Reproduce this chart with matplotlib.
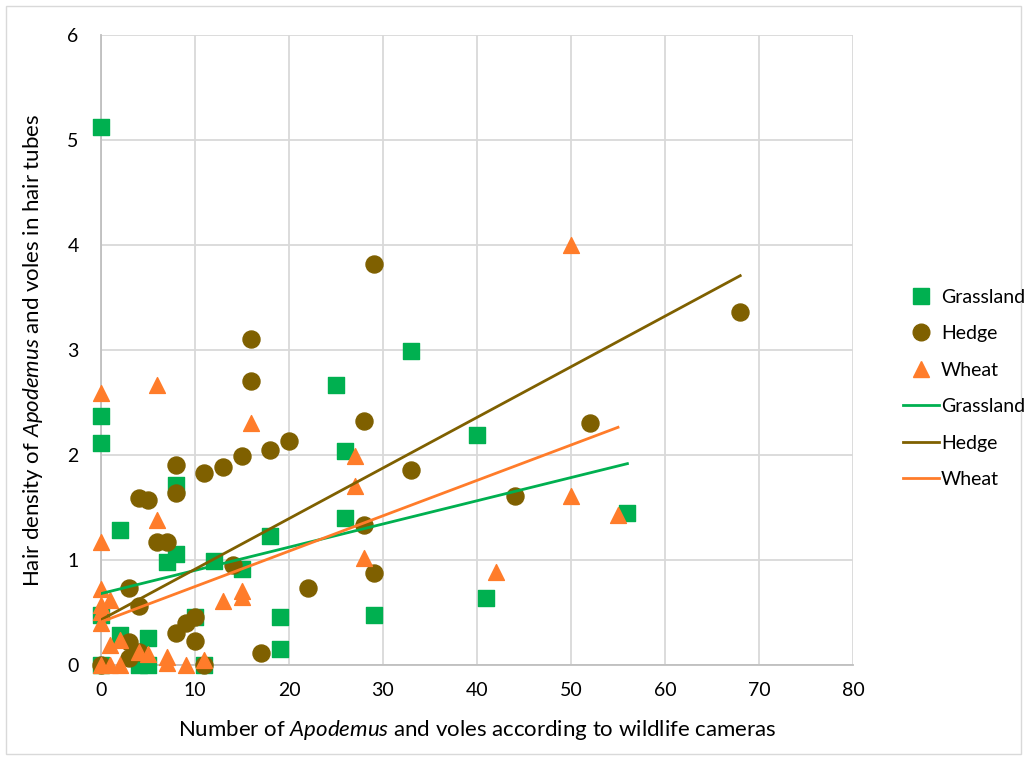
import numpy as np
import matplotlib.pyplot as plt
from matplotlib.lines import Line2D
from matplotlib.patches import Rectangle

plt.rcParams['font.family'] = ['Lato', 'DejaVu Sans']
plt.rcParams['mathtext.fontset'] = 'custom'
plt.rcParams['mathtext.rm'] = 'Lato'
plt.rcParams['mathtext.it'] = 'Lato:italic'

# cameras count (x) vs hair density (y)
grass_x = [0, 0, 0, 2, 8, 8, 7, 12, 15, 18, 25, 26, 26, 33, 40, 41, 56, 29, 19, 19,
           0, 2, 5, 10, 0, 4, 5, 11]
grass_y = [5.12, 2.37, 2.11, 1.29, 1.71, 1.06, 0.98, 0.99, 0.91, 1.23, 2.67, 2.04, 1.40,
           2.99, 2.19, 0.64, 1.45, 0.48, 0.46, 0.15, 0.48, 0.29, 0.26, 0.46, 0.0, 0.0, 0.0, 0.0]

hedge_x = [29, 16, 16, 28, 20, 18, 15, 13, 11, 8, 8, 4, 5, 6, 7, 3, 4, 14, 28, 29, 33,
           44, 52, 68, 22, 17, 8, 9, 10, 10, 3, 4, 3, 0, 11]
hedge_y = [3.82, 3.10, 2.70, 2.32, 2.13, 2.05, 1.99, 1.89, 1.83, 1.90, 1.64, 1.59, 1.57,
           1.17, 1.17, 0.73, 0.56, 0.95, 1.33, 0.88, 1.86, 1.61, 2.30, 3.36, 0.73, 0.11,
           0.30, 0.40, 0.46, 0.23, 0.22, 0.12, 0.07, 0.0, 0.0]

wheat_x = [50, 6, 0, 16, 27, 27, 6, 0, 50, 55, 42, 28, 15, 15, 13, 0, 1, 0, 0, 0,
           1, 2, 4, 5, 7, 7, 9, 11, 0, 1, 2]
wheat_y = [4.00, 2.67, 2.59, 2.30, 1.99, 1.70, 1.38, 1.17, 1.61, 1.43, 0.89, 1.02, 0.70,
           0.65, 0.61, 0.72, 0.62, 0.57, 0.50, 0.40, 0.19, 0.24, 0.12, 0.10, 0.08, 0.02,
           0.0, 0.05, 0.0, 0.0, 0.0]

# linear trendlines (intercept, slope), as drawn in the figure
grass_fit = (0.68, 0.0221)
hedge_fit = (0.43, 0.0482)
wheat_fit = (0.41, 0.0337)

green = '#00B050'
brown = '#7F6000'
orange = '#FF7C2A'

fig = plt.figure(figsize=(10.27, 7.6), dpi=100)
ax = fig.add_axes([0.0983, 0.125, 0.7323, 0.829])
fig.patches.append(Rectangle((0.006, 0.008), 0.988, 0.984, transform=fig.transFigure,
                             fill=False, edgecolor='#d9d9d9', lw=1))

ax.scatter(grass_x, grass_y, marker='s', s=130, color=green, clip_on=False, zorder=3)
ax.scatter(hedge_x, hedge_y, marker='o', s=150, color=brown, clip_on=False, zorder=3)
ax.scatter(wheat_x, wheat_y, marker='^', s=130, color=orange, clip_on=False, zorder=3)

for xs, fit, col in [(grass_x, grass_fit, green), (hedge_x, hedge_fit, brown),
                     (wheat_x, wheat_fit, orange)]:
    xx = np.array([0, max(xs)])
    ax.plot(xx, fit[0] + fit[1] * xx, color=col, lw=2, zorder=4)

ax.set_xlim(0, 80)
ax.set_ylim(0, 6)
ax.set_xticks(range(0, 81, 10))
ax.set_yticks(range(0, 7))
ax.grid(True, color='#d9d9d9', lw=1.3)
ax.set_axisbelow(True)
for side in ['top', 'right']:
    ax.spines[side].set_visible(False)
for side in ['left', 'bottom']:
    ax.spines[side].set_color('#bfbfbf')
    ax.spines[side].set_linewidth(1.3)
ax.tick_params(length=0, labelsize=14, colors='black', pad=12)
ax.tick_params(axis='y', pad=16)

ax.set_xlabel(r'Number of $\it{Apodemus}$ and voles according to wildlife cameras',
              fontsize=16, labelpad=14)
ax.set_ylabel(r'Hair density of $\it{Apodemus}$ and voles in hair tubes',
              fontsize=16, labelpad=16)

handles = [
    Line2D([], [], marker='s', ls='none', color=green, markersize=11),
    Line2D([], [], marker='o', ls='none', color=brown, markersize=12),
    Line2D([], [], marker='^', ls='none', color=orange, markersize=11),
    Line2D([], [], color=green, lw=2),
    Line2D([], [], color=brown, lw=2),
    Line2D([], [], color=orange, lw=2),
]
labels = ['Grassland', 'Hedge', 'Wheat', 'Grassland', 'Hedge', 'Wheat']
fig.legend(handles, labels, loc='center left', bbox_to_anchor=(0.862, 0.489),
           frameon=False, fontsize=14, handlelength=1.85, handletextpad=0.12,
           labelspacing=1.0, borderpad=0.4)

fig.savefig('out.png', dpi=100, facecolor='white')
